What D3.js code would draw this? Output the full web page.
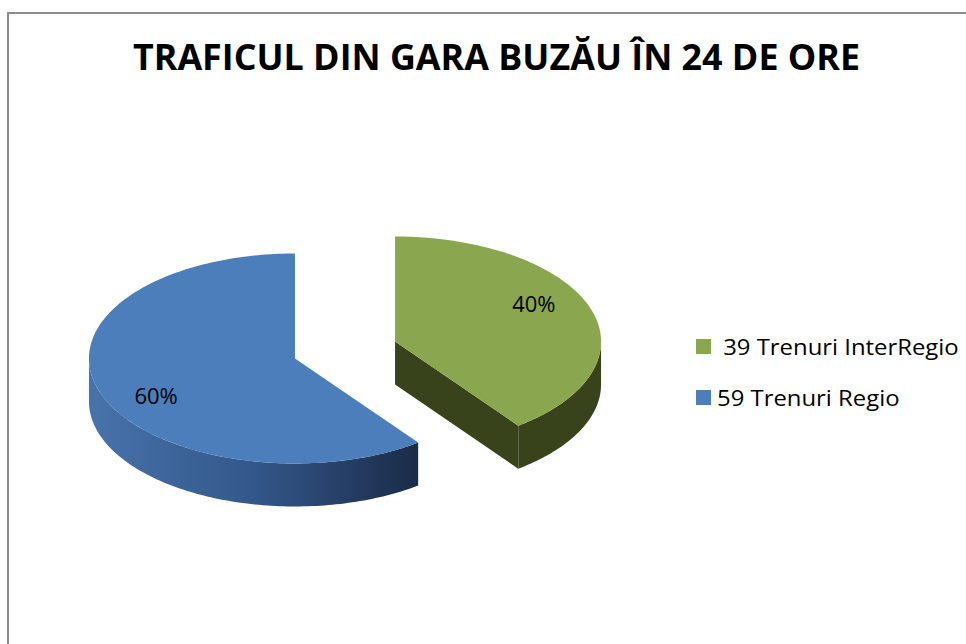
<!DOCTYPE html>
<html>
<head>
<meta charset="utf-8">
<script src="https://cdn.jsdelivr.net/npm/d3@7"></script>
<style>
    body { margin: 0; background: #fff; }
    svg { display: block; }
    text { font-family: "Open Sans", sans-serif; fill: #000; white-space: pre; }
</style>
</head>
<body>
<div id="chart"></div>
<script>
const ancho = 966
const alto = 644

// datos
const titulo = "TRAFICUL DIN GARA BUZĂU ÎN 24 DE ORE"
const categorias = [" 39 Trenuri InterRegio", "59 Trenuri Regio"]
const valores = [39, 59]
const colores = ["#8aa64f", "#4b7ebb"]

// geometria de la tarta 3D
const centro = { x: 345, y: 350 }
const rx = 206, ry = 105, grosor = 43, explosion = 0.256

const svg = d3.select("#chart").append("svg").attr("width", ancho).attr("height", alto)

// marco
svg.append("rect").attr("x", 8).attr("y", 13).attr("width", 1000).attr("height", 700)
    .attr("fill", "none").attr("stroke", "#8c8c8c").attr("stroke-width", 2)

// titulo
svg.append("text").attr("x", 496.5).attr("y", 70).attr("text-anchor", "middle")
    .attr("font-size", 35).attr("font-weight", "bold")
    .attr("textLength", 727).attr("lengthAdjust", "spacingAndGlyphs")
    .text(titulo)

const defs = svg.append("defs")
const grad = defs.append("linearGradient").attr("id", "ladoAzul")
grad.append("stop").attr("offset", "0%").attr("stop-color", "#4773ab")
grad.append("stop").attr("offset", "50%").attr("stop-color", "#33578a")
grad.append("stop").attr("offset", "100%").attr("stop-color", "#1b2b48")

const colorLado = [null, "url(#ladoAzul)"]
const colorLadoVerde = "#38431c"

const pie = d3.pie().sort(null).value(d => d)
const arcos = pie(valores)
const total = d3.sum(valores)
const pct = d3.format(".0%")

const linea = d3.line()
const punto = (c, a, dz = 0) => [c.x + rx * Math.sin(a), c.y - ry * Math.cos(a) + dz]
const muestras = (a0, a1) => {
    const n = Math.max(2, Math.ceil((a1 - a0) / 0.02))
    return d3.range(n + 1).map(i => a0 + (a1 - a0) * i / n)
}

const grupoTarta = svg.append("g")

arcos.forEach((d, i) => {
    const medio = (d.startAngle + d.endAngle) / 2
    const c = {
        x: centro.x + explosion * rx * Math.sin(medio),
        y: centro.y - explosion * ry * Math.cos(medio)
    }
    const g = grupoTarta.append("g")
    const relleno = i === 0 ? colorLadoVerde : colorLado[i]

    // caras de corte visibles
    const caras = [[d.startAngle, d.startAngle - Math.PI / 2], [d.endAngle, d.endAngle + Math.PI / 2]]
    caras.forEach(([a, n]) => {
        if (-Math.cos(n) > 0.01) {
            const p = punto(c, a)
            g.append("path").attr("fill", i === 0 ? colorLadoVerde : "#1b2b48")
                .attr("d", linea([[c.x, c.y], p, [p[0], p[1] + grosor], [c.x, c.y + grosor]]) + "Z")
        }
    })

    // pared exterior (mitad delantera)
    const v0 = Math.max(d.startAngle, Math.PI / 2)
    const v1 = Math.min(d.endAngle, 3 * Math.PI / 2)
    if (v1 > v0) {
        const arriba = muestras(v0, v1).map(a => punto(c, a))
        const abajo = muestras(v0, v1).reverse().map(a => punto(c, a, grosor))
        g.append("path").attr("fill", relleno).attr("d", linea(arriba.concat(abajo)) + "Z")
    }

    // cara superior
    const sup = [[c.x, c.y]].concat(muestras(d.startAngle, d.endAngle).map(a => punto(c, a)))
    g.append("path").attr("fill", colores[i]).attr("d", linea(sup) + "Z")

    // etiqueta de porcentaje
    g.append("text")
        .attr("x", c.x + 0.71 * rx * Math.sin(medio))
        .attr("y", c.y - 1.13 * ry * Math.cos(medio))
        .attr("dy", "0.36em").attr("text-anchor", "middle").attr("font-size", 22)
        .text(pct(d.value / total))
})

// leyenda
const leyenda = svg.append("g").attr("transform", "translate(696, 339)")
const items = leyenda.selectAll("g").data(categorias).enter().append("g")
    .attr("transform", (d, i) => `translate(0, ${i * 51})`)
items.append("rect").attr("width", 15).attr("height", 15).attr("fill", (d, i) => colores[i])
items.append("text").attr("x", 21).attr("y", 15.5).attr("font-size", 22)
    .text(d => d)
    .each(function () {
        const largo = this.getComputedTextLength()
        d3.select(this).attr("textLength", largo * 1.085).attr("lengthAdjust", "spacingAndGlyphs")
    })
</script>
</body>
</html>
